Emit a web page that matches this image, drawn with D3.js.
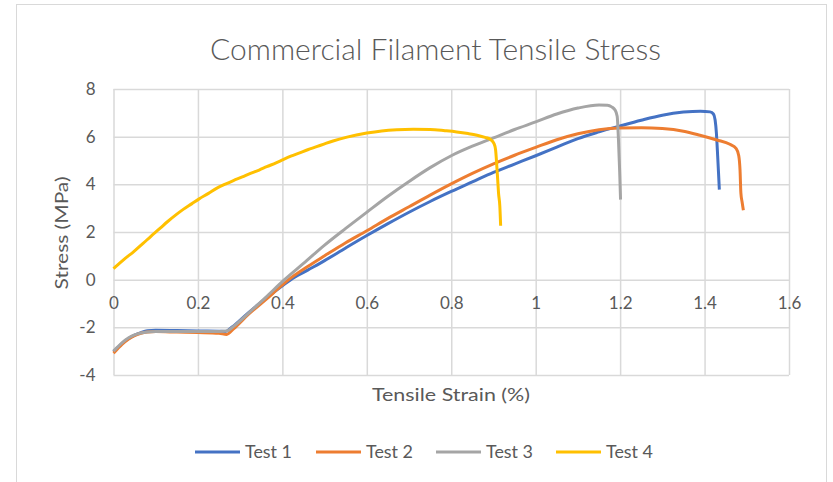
<!DOCTYPE html>
<html>
<head>
<meta charset="utf-8">
<script src="https://cdn.jsdelivr.net/npm/d3@7"></script>
<style>
  body { margin: 0; background: #fff; }
  svg { display: block; font-family: Lato, "Open Sans", sans-serif; }
</style>
</head>
<body>
<div id="content"></div>
<script>
// strain (%) , stress (MPa)
const test1 = [[0,-3.02],[0.01,-2.85],[0.02,-2.68],[0.035,-2.48],[0.05,-2.33],[0.065,-2.22],[0.08,-2.14],[0.1,-2.12],
  [0.15,-2.13],[0.2,-2.15],[0.25,-2.16],[0.265,-2.17],[0.28,-2.0],[0.32,-1.38],[0.36,-0.8],[0.4,-0.26],[0.42,0],
  [0.46,0.4],[0.5,0.8],[0.55,1.33],[0.6,1.85],[0.65,2.35],[0.7,2.83],[0.75,3.28],[0.8,3.7],[0.85,4.1],[0.9,4.5],
  [0.95,4.85],[1.0,5.2],[1.05,5.56],[1.1,5.92],[1.15,6.2],[1.2,6.45],[1.25,6.69],[1.3,6.9],[1.35,7.03],[1.39,7.07],
  [1.413,7.04],[1.421,6.95],[1.425,6.7],[1.428,6.16],[1.431,5.2],[1.433,4.5],[1.435,3.78]];
const test2 = [[0,-3.08],[0.01,-2.9],[0.02,-2.72],[0.035,-2.5],[0.05,-2.35],[0.065,-2.25],[0.08,-2.2],[0.1,-2.18],
  [0.15,-2.2],[0.2,-2.22],[0.25,-2.25],[0.268,-2.3],[0.285,-2.05],[0.32,-1.45],[0.36,-0.85],[0.4,-0.22],[0.415,0],
  [0.46,0.55],[0.5,1.0],[0.55,1.55],[0.6,2.05],[0.65,2.57],[0.7,3.06],[0.75,3.55],[0.8,4.02],[0.85,4.46],[0.9,4.86],
  [0.95,5.22],[1.0,5.55],[1.05,5.87],[1.1,6.12],[1.15,6.29],[1.2,6.36],[1.25,6.37],[1.3,6.34],[1.35,6.23],
  [1.389,6.06],[1.429,5.86],[1.46,5.68],[1.475,5.5],[1.481,5.2],[1.484,4.6],[1.486,3.64],[1.489,3.25],[1.492,2.91]];
const test3 = [[0,-3.0],[0.01,-2.82],[0.02,-2.65],[0.035,-2.45],[0.05,-2.32],[0.065,-2.24],[0.08,-2.2],[0.1,-2.18],
  [0.15,-2.17],[0.2,-2.17],[0.25,-2.17],[0.268,-2.15],[0.285,-1.95],[0.32,-1.4],[0.36,-0.75],[0.405,0],[0.45,0.68],
  [0.5,1.45],[0.55,2.15],[0.6,2.83],[0.65,3.5],[0.7,4.12],[0.75,4.7],[0.8,5.2],[0.85,5.6],[0.9,5.95],[0.95,6.3],
  [1.0,6.62],[1.05,6.95],[1.1,7.2],[1.15,7.33],[1.17,7.32],[1.18,7.25],[1.188,7.12],[1.193,6.86],[1.196,5.9],
  [1.199,4.5],[1.201,3.36]];
const test4 = [[0,0.46],[0.01,0.62],[0.025,0.85],[0.048,1.18],[0.07,1.52],[0.088,1.81],[0.11,2.15],[0.127,2.42],
  [0.15,2.75],[0.166,2.96],[0.185,3.18],[0.202,3.38],[0.225,3.62],[0.245,3.84],[0.265,4.01],[0.284,4.16],[0.305,4.31],
  [0.323,4.45],[0.345,4.6],[0.363,4.74],[0.385,4.9],[0.402,5.04],[0.42,5.18],[0.441,5.32],[0.46,5.45],[0.481,5.58],
  [0.5,5.7],[0.52,5.82],[0.553,5.98],[0.6,6.15],[0.635,6.24],[0.671,6.29],[0.71,6.31],[0.75,6.3],[0.785,6.25],
  [0.813,6.2],[0.84,6.13],[0.861,6.06],[0.88,5.97],[0.893,5.88],[0.901,5.72],[0.905,5.45],[0.908,4.74],[0.91,4.2],
  [0.912,3.63],[0.915,3.1],[0.917,2.26]];

const seriesNames = ["Test 1", "Test 2", "Test 3", "Test 4"];
const seriesData = [test1, test2, test3, test4];
const colors = ["#4472C4", "#ED7D31", "#A5A5A5", "#FFC000"];
const xTicks = [0, 0.2, 0.4, 0.6, 0.8, 1, 1.2, 1.4, 1.6];
const yTicks = [-4, -2, 0, 2, 4, 6, 8];

const w = 833, h = 482;
const plotLeft = 113.5, plotRight = 789, plotTop = 89, plotBottom = 375;

const svg = d3.select("#content").append("svg").attr("width", w).attr("height", h);

// chart area border
svg.append("rect").attr("x", 16.5).attr("y", 4.5).attr("width", 810).attr("height", 500)
  .attr("fill", "#fff").attr("stroke", "#D9D9D9").attr("stroke-width", 1);

const x = d3.scaleLinear().domain([0, 1.6]).range([plotLeft, plotRight]);
const y = d3.scaleLinear().domain([-4, 8]).range([plotBottom, plotTop]);

// gridlines
svg.append("g").attr("transform", `translate(0,${plotBottom})`)
  .call(d3.axisBottom(x).tickValues(xTicks).tickSize(-(plotBottom - plotTop)).tickFormat(""))
  .call(g => g.select(".domain").remove())
  .call(g => g.selectAll("line").attr("stroke", "#D9D9D9").attr("stroke-width", 1.5));
svg.append("g").attr("transform", `translate(${plotLeft},0)`)
  .call(d3.axisLeft(y).tickValues(yTicks).tickSize(-(plotRight - plotLeft)).tickFormat(""))
  .call(g => g.select(".domain").remove())
  .call(g => g.selectAll("line").attr("stroke", "#D9D9D9").attr("stroke-width", 1.5));

// tick labels
const fmt = d => String(+d.toFixed(1));
svg.append("g").attr("transform", `translate(0,${y(0)})`)
  .call(d3.axisBottom(x).tickValues(xTicks).tickSize(0).tickPadding(17).tickFormat(fmt))
  .call(g => g.select(".domain").remove())
  .call(g => g.selectAll("text").attr("fill", "#595959").style("font-size", "17px")
    .style("font-family", "Lato, 'Open Sans', sans-serif"));
svg.append("g").attr("transform", `translate(${plotLeft},0)`)
  .call(d3.axisLeft(y).tickValues(yTicks).tickSize(0).tickPadding(18).tickFormat(fmt))
  .call(g => g.select(".domain").remove())
  .call(g => g.selectAll("text").attr("fill", "#595959").style("font-size", "17px")
    .style("font-family", "Lato, 'Open Sans', sans-serif"));

// series
const line = d3.line().x(d => x(d[0])).y(d => y(d[1])).curve(d3.curveMonotoneX);
svg.selectAll("path.series").data(seriesData).enter().append("path")
  .attr("class", "series")
  .attr("d", line)
  .attr("fill", "none")
  .attr("stroke", (d, i) => colors[i])
  .attr("stroke-width", 3)
  .attr("stroke-linejoin", "round");

// titles
svg.append("text").text("Commercial Filament Tensile Stress")
  .attr("x", 435.5).attr("y", 60).attr("text-anchor", "middle")
  .attr("fill", "#595959").style("font-size", "29px").style("font-weight", 300)
  .attr("textLength", 451).attr("lengthAdjust", "spacingAndGlyphs");
svg.append("text").text("Tensile Strain (%)")
  .attr("x", 451).attr("y", 401).attr("text-anchor", "middle")
  .attr("fill", "#595959").style("font-size", "17px")
  .attr("textLength", 158).attr("lengthAdjust", "spacingAndGlyphs");
svg.append("text").text("Stress (MPa)")
  .attr("transform", "translate(68,233) rotate(-90)").attr("text-anchor", "middle")
  .attr("fill", "#595959").style("font-size", "17px")
  .attr("textLength", 113).attr("lengthAdjust", "spacingAndGlyphs");

// legend
const legendX = [195, 316, 436, 556];
const legend = svg.selectAll("g.legend").data(seriesNames).enter().append("g")
  .attr("class", "legend")
  .attr("transform", (d, i) => `translate(${legendX[i]},452)`);
legend.append("line").attr("x1", 0).attr("x2", 45).attr("y1", 0).attr("y2", 0)
  .attr("stroke", (d, i) => colors[i]).attr("stroke-width", 3);
legend.append("text").text(d => d).attr("x", 50).attr("y", 6)
  .attr("fill", "#595959").style("font-size", "17px")
  .attr("textLength", 47).attr("lengthAdjust", "spacingAndGlyphs");
</script>
</body>
</html>
